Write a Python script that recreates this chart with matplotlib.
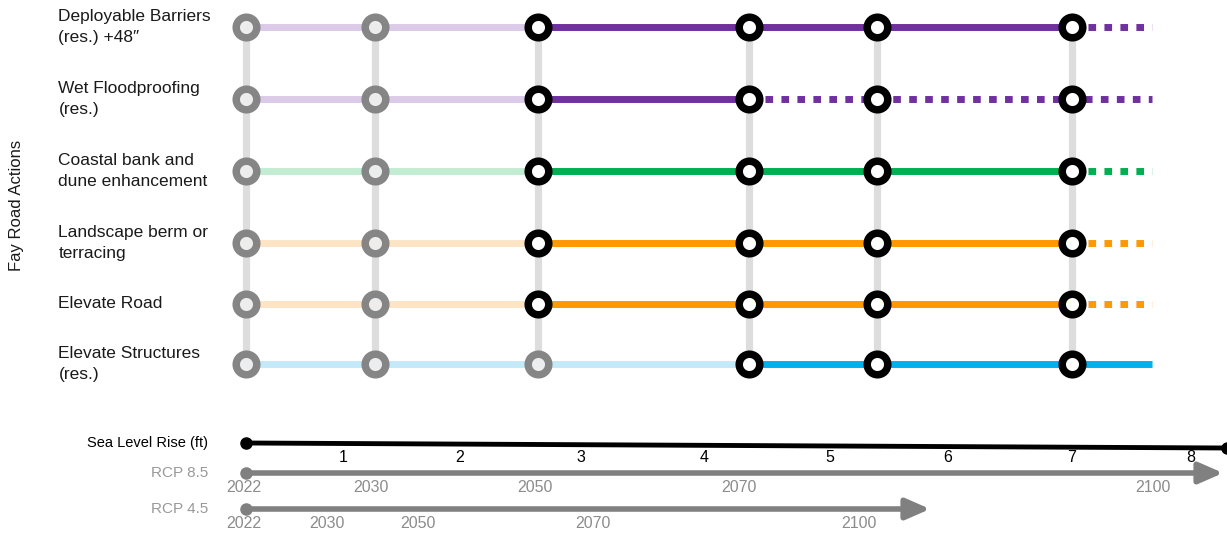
"""Adaptation pathways chart for Fay Road actions against sea level rise."""

import matplotlib
matplotlib.use("Agg")
import matplotlib.pyplot as plt

plt.rcParams["font.family"] = ["Liberation Sans Narrow", "Liberation Sans", "DejaVu Sans"]

# ---- data -------------------------------------------------------------
actions = [
    "Deployable Barriers\n(res.) +48\u2033",
    "Wet Floodproofing\n(res.)",
    "Coastal bank and\ndune enhancement",
    "Landscape berm or\nterracing",
    "Elevate Road",
    "Elevate Structures\n(res.)",
]
# decision points, in feet of sea level rise
decision_ft = [0.0, 1.05, 2.38, 4.10, 5.15, 6.74]
path_end_ft = 7.39
# start of the active (dark) segment and start of the dotted segment
active_from = [2.38, 2.38, 2.38, 2.38, 2.38, 4.10]
dotted_from = [6.74, 4.10, 6.74, 6.74, 6.74, None]
dark_colors = ["#7030A0", "#7030A0", "#00B050", "#FF9900", "#FF9900", "#00B0F0"]
pale_colors = ["#DCCBE8", "#DCCBE8", "#C3EDD3", "#FDE4C5", "#FDE4C5", "#C4EAF9"]

slr_ticks = ["1", "2", "3", "4", "5", "6", "7", "8"]
slr_label_ft = [0.79, 1.74, 2.73, 3.74, 4.76, 5.72, 6.73, 7.71]
slr_max = 8.0
rcp85_years = ["2022", "2030", "2050", "2070", "2100"]
rcp85_year_ft = [0.0, 1.04, 2.38, 4.04, 7.42]
rcp85_end = 7.97
rcp45_years = ["2022", "2030", "2050", "2070", "2100"]
rcp45_year_ft = [0.0, 0.68, 1.42, 2.85, 5.02]
rcp45_end = 5.58

# ---- layout (x in ft, y in pixels from top) ----------------------------
ROW_Y = [27, 99, 171, 243, 304, 364]
LABEL_X = -1.53
SLR_Y = (443, 448)
RCP85_Y, RCP45_Y = 473, 509
GREY = "#808080"

fig = plt.figure(figsize=(12.27, 5.33), dpi=100)
ax = fig.add_axes([0, 0, 1, 1])
ax.set_xlim(-246 / 122.6, 981 / 122.6)
ax.set_ylim(533, 0)
ax.axis("off")

# vertical grey decision lines
for x in decision_ft:
    ax.plot([x, x], [ROW_Y[0], ROW_Y[-1]], color="#DDDDDD", lw=5.2,
            solid_capstyle="butt", zorder=1)

for i, name in enumerate(actions):
    y = ROW_Y[i]
    ax.text(LABEL_X, y, name, ha="left", va="center", fontsize=12.5,
            color="#1a1a1a", linespacing=1.45)
    ax.plot([0, active_from[i]], [y, y], color=pale_colors[i], lw=5,
            solid_capstyle="butt", zorder=2)
    solid_end = dotted_from[i] if dotted_from[i] is not None else path_end_ft
    ax.plot([active_from[i], solid_end], [y, y], color=dark_colors[i], lw=5,
            solid_capstyle="butt", zorder=2)
    if dotted_from[i] is not None:
        ax.plot([dotted_from[i], path_end_ft], [y, y], color=dark_colors[i],
                lw=5, linestyle=(0, (1.1, 1.2)), dash_capstyle="butt", zorder=2)
    for x in decision_ft:
        active = x >= active_from[i]
        ax.plot(x, y, marker="o", ms=14.8, mew=5.4, zorder=4,
                mec="black" if active else GREY,
                mfc="white" if active else "#EEEEEE",
                alpha=1 if active else 0.95)

ax.text(-1.87, 205, "Fay Road Actions", rotation=90, ha="center",
        va="center", fontsize=12, color="#1a1a1a")

# sea level rise scale
ax.plot([0, slr_max], SLR_Y, color="black", lw=3.5, zorder=3)
ax.plot([0, slr_max], SLR_Y, "o", color="black", ms=8, zorder=3)
ax.text(-0.31, SLR_Y[0], "Sea Level Rise (ft)", ha="right", va="center",
        fontsize=10.5, color="black")
for t, x in zip(slr_ticks, slr_label_ft):
    ax.text(x, 457, t, ha="center", va="center", fontsize=11.5,
            color="black")

# emission scenarios
for lab, yy, years, pos, end in [("RCP 8.5", RCP85_Y, rcp85_years, rcp85_year_ft, rcp85_end),
                                 ("RCP 4.5", RCP45_Y, rcp45_years, rcp45_year_ft, rcp45_end)]:
    ax.annotate("", xy=(end, yy), xytext=(0, yy),
                arrowprops=dict(arrowstyle="-|>,head_length=0.8,head_width=0.35",
                                lw=4, color=GREY, shrinkA=0, shrinkB=0,
                                mutation_scale=18))
    ax.plot(0, yy, "o", color=GREY, ms=8, zorder=3)
    ax.text(-0.31, yy, lab, ha="right", va="center", fontsize=11, color="#999999")
    for yr, x in zip(years, pos):
        ax.text(x - 0.02, yy + 15, yr, ha="center", va="center", fontsize=11.5,
                color="#8c8c8c")

fig.savefig("out.png", dpi=100)
